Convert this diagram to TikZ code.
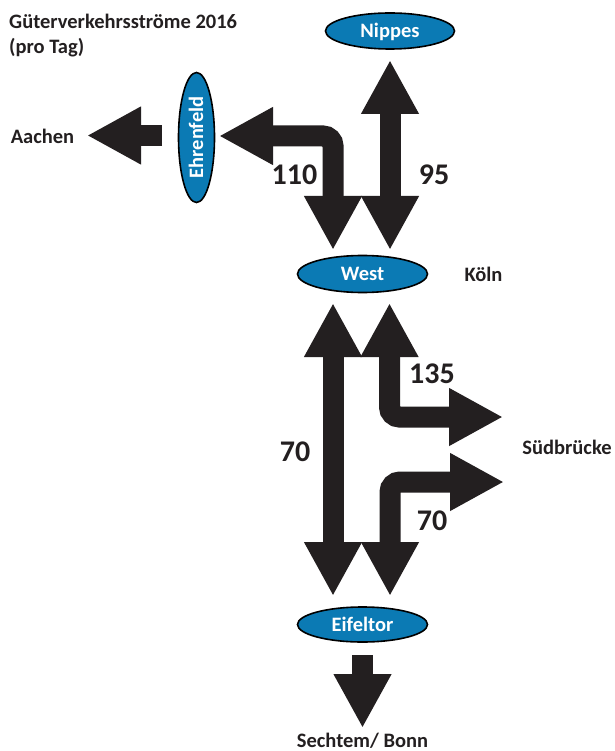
\documentclass[tikz,border=0pt]{standalone}
\usepackage{fontspec}
\setmainfont{Carlito}
\usetikzlibrary{arrows.meta,shapes.geometric}
\definecolor{ink}{HTML}{231F20}
\definecolor{stationblue}{HTML}{0B7AB4}
\begin{document}
\begin{tikzpicture}[x=1pt,y=-1pt,
  >={Triangle[width=54pt,length=54pt]},
  flow/.style={draw=ink, line width=21pt, rounded corners=10pt},
  station/.style={ellipse, draw=black, line width=1.6pt, fill=stationblue,
    text=white, font=\bfseries\fontsize{20.5}{20.5}\selectfont,
    inner sep=0pt, text height=13.2pt, text depth=0pt},
  place/.style={text=ink, font=\bfseries\fontsize{20.5}{24}\selectfont, inner sep=0pt},
  volume/.style={text=ink, font=\bfseries\fontsize{30}{30}\selectfont, inner sep=0pt}]
\useasboundingbox (0,0) rectangle (614,751);

% stations
\node[station, minimum width=129pt, minimum height=36pt] (nippes) at (390,31) {Nippes};
\node[station, rotate=90, minimum width=130pt, minimum height=36pt] (ehrenfeld) at (196.5,137.5) {Ehrenfeld};
\node[station, minimum width=130pt, minimum height=37pt] (west) at (362.5,274) {West};
\node[station, minimum width=130pt, minimum height=35pt] (eifeltor) at (362.5,624.5) {Eifeltor};

% destinations and title
\node[place, anchor=base west] (title1) at (9,28.5) {Güterverkehrsströme 2016};
\node[place, anchor=base west] (title2) at (9,54) {(pro Tag)};
\node[place, anchor=base] (aachen) at (42.5,143.5) {Aachen};
\node[place, anchor=base] (koeln) at (483.5,281) {Köln};
\node[place, anchor=base] (suedbruecke) at (567,454) {Südbrücke};
\node[place, anchor=base] (sechtem) at (362.5,747) {Sechtem/ Bonn};

% arrow end points
\coordinate (nippesOut) at (390,60);
\coordinate (westInR)   at (390,250);
\coordinate (ehrOut)    at (219,136);
\coordinate (westInL)   at (333,250);
\coordinate (aachenFrom) at (162,135.5);
\coordinate (aachenTo)   at (87,135.5);
\coordinate (westOutL)  at (333,303);
\coordinate (eifInL)    at (333,596);
\coordinate (westOutR)  at (389.5,303);
\coordinate (suedTop)   at (503,417);
\coordinate (suedBot)   at (504,482);
\coordinate (eifInR)    at (390,596);
\coordinate (eifFrom)   at (362.5,655);
\coordinate (bonnTo)    at (362.5,728);

% freight flows
\draw[flow, <->] (nippesOut) -- (westInR);
\draw[flow, <->] (ehrOut) -- (westInL |- ehrOut) -- (westInL);
\draw[flow, ->] (aachenFrom) -- (aachenTo);
\draw[flow, <->] (westOutL) -- (eifInL);
\draw[flow, <->] (westOutR) -- (westOutR |- suedTop) -- (suedTop);
\draw[flow, <->] (suedBot) -- (eifInR |- suedBot) -- (eifInR);
\draw[flow, ->] (eifFrom) -- (bonnTo);

% daily volumes
\node[volume, anchor=base] (v110) at (294.5,185) {110};
\node[volume, anchor=base] (v95) at (434,185) {95};
\node[volume, anchor=base] (v135) at (432,383) {135};
\node[volume, anchor=base] (v70a) at (295,461.5) {70};
\node[volume, anchor=base] (v70b) at (432,530.5) {70};
\end{tikzpicture}
\end{document}
